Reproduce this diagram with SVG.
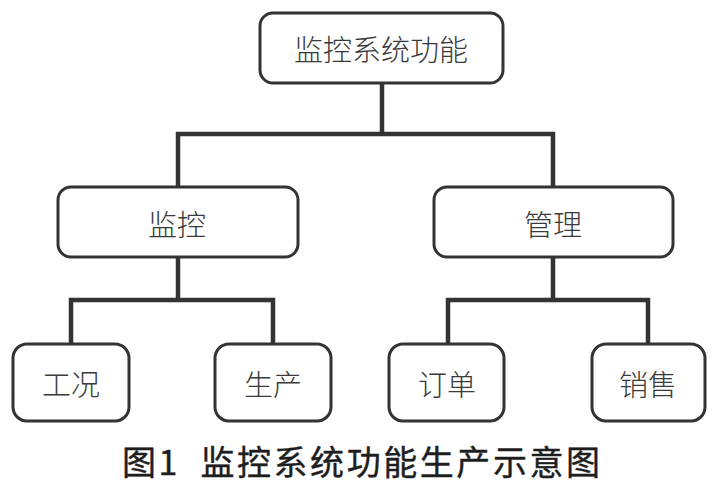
<svg xmlns="http://www.w3.org/2000/svg" width="715" height="487" viewBox="0 0 715 487">
<style>
.box{fill:#fff;stroke:#333;stroke-width:3}
.lbl{font-family:"Noto Sans CJK SC",sans-serif;font-size:29px;font-weight:300;fill:#3a3a3a;text-anchor:middle;dominant-baseline:central}
.con{fill:none;stroke:#333;stroke-width:4.5;stroke-linejoin:miter}
.cap{font-family:"Noto Sans CJK SC",sans-serif;font-size:34px;fill:#1e1e1e;font-weight:normal;stroke:#1e1e1e;stroke-width:0.4}
</style>
<rect width="715" height="487" fill="#fff"/>
<g id="connectors">
<path class="con" d="M382 83V134M178 187V134H553V187"/>
<path class="con" d="M178 257V300M71 344V300H273V344"/>
<path class="con" d="M553 257V300M448 344V300H648V344"/>
</g>
<g id="root"><rect class="box" x="260" y="13" width="243" height="70" rx="13"/><text class="lbl" x="381" y="48">监控系统功能</text></g>
<g id="jiankong"><rect class="box" x="58" y="187" width="240" height="70" rx="13"/><text class="lbl" x="177" y="223">监控</text></g>
<g id="guanli"><rect class="box" x="434" y="187" width="239" height="70" rx="13"/><text class="lbl" x="553" y="223">管理</text></g>
<g id="gongkuang"><rect class="box" x="13" y="344" width="116" height="77" rx="14"/><text class="lbl" x="71" y="383">工况</text></g>
<g id="shengchan"><rect class="box" x="215" y="344" width="116" height="77" rx="14"/><text class="lbl" x="273" y="383">生产</text></g>
<g id="dingdan"><rect class="box" x="389" y="344" width="115" height="77" rx="14"/><text class="lbl" x="447" y="383">订单</text></g>
<g id="xiaoshou"><rect class="box" x="592" y="344" width="113" height="77" rx="14"/><text class="lbl" x="648" y="383">销售</text></g>
<text class="cap" x="122" y="475" textLength="478" lengthAdjust="spacing" xml:space="preserve">图1  监控系统功能生产示意图</text>
</svg>
